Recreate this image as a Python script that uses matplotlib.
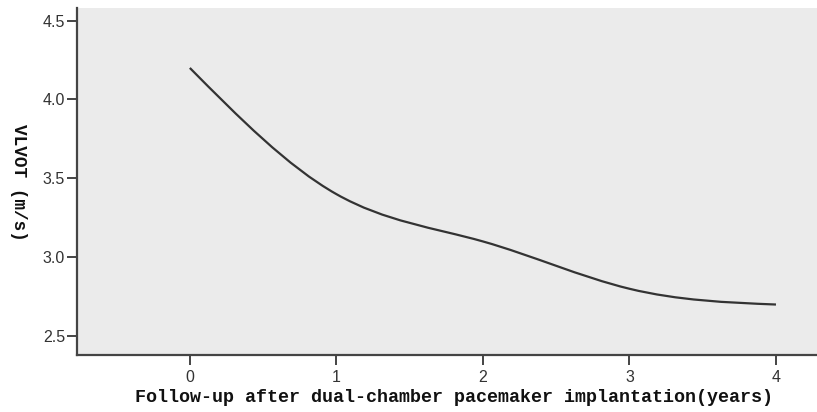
import numpy as np
import matplotlib
matplotlib.use("Agg")
import matplotlib.pyplot as plt
from matplotlib.path import Path
from matplotlib.patches import PathPatch

# Data
years = [0, 1, 2, 3, 4]
vlvot = [4.2, 3.4, 3.1, 2.8, 2.7]
x_ticks = [0, 1, 2, 3, 4]
y_ticks = [2.5, 3.0, 3.5, 4.0, 4.5]
x_label = "Follow-up after dual-chamber pacemaker implantation(years)"
y_label = "VLVOT (m/s)"

# Natural cubic spline slopes (smooth interpolation line as in SPSS)
x = np.asarray(years, float)
y = np.asarray(vlvot, float)
n = len(x)
h = np.diff(x)
A = np.zeros((n, n))
b = np.zeros(n)
A[0, 0] = 1
A[-1, -1] = 1
for i in range(1, n - 1):
    A[i, i - 1] = h[i - 1]
    A[i, i] = 2 * (h[i - 1] + h[i])
    A[i, i + 1] = h[i]
    b[i] = 6 * ((y[i + 1] - y[i]) / h[i] - (y[i] - y[i - 1]) / h[i - 1])
M = np.linalg.solve(A, b)
slopes = np.zeros(n)
for i in range(n - 1):
    slopes[i] = (y[i + 1] - y[i]) / h[i] - h[i] * (2 * M[i] + M[i + 1]) / 6
slopes[-1] = (y[-1] - y[-2]) / h[-1] + h[-1] * (M[-2] + 2 * M[-1]) / 6

verts = [(x[0], y[0])]
codes = [Path.MOVETO]
for i in range(n - 1):
    d = h[i] / 3
    verts += [(x[i] + d, y[i] + slopes[i] * d),
              (x[i + 1] - d, y[i + 1] - slopes[i + 1] * d),
              (x[i + 1], y[i + 1])]
    codes += [Path.CURVE4] * 3

fig = plt.figure(figsize=(8.17, 4.12), dpi=100)
ax = fig.add_axes([77 / 817, 1 - 355 / 412, 1 - 77 / 817, (355 - 8) / 412])
ax.set_facecolor("#ebebeb")

ax.add_patch(PathPatch(Path(verts, codes), fill=False, edgecolor="#333333",
                       linewidth=1.6, capstyle="butt"))

ax.set_xlim(-0.77, 4.28)
ax.set_ylim(2.38, 4.58)
ax.set_xticks(x_ticks)
ax.set_yticks(y_ticks)
ax.set_xticklabels([str(t) for t in x_ticks])
ax.set_yticklabels([f"{t:.1f}" for t in y_ticks])

for s in ["top", "right"]:
    ax.spines[s].set_visible(False)
for s in ["left", "bottom"]:
    ax.spines[s].set_color("#444444")
    ax.spines[s].set_linewidth(1.6)

ax.tick_params(axis="both", direction="out", length=7.5, width=1.4,
               color="#444444", labelcolor="#333333", labelsize=11.5)
ax.tick_params(axis="y", pad=1)
ax.tick_params(axis="x", pad=3)
for lab in ax.get_xticklabels() + ax.get_yticklabels():
    lab.set_fontfamily("Liberation Sans")

fig.text(0.5 * (137 + 771) / 817, 1 - 397 / 412, x_label, ha="center", va="center",
         fontfamily="Liberation Mono", fontweight="bold", fontsize=13.2, color="#111111")
fig.text(18 / 817, 1 - 182 / 412, y_label, ha="center", va="center", rotation=270,
         fontfamily="Liberation Mono", fontweight="bold", fontsize=12.8, color="#111111")

fig.savefig("out.png", dpi=100, facecolor="white")
